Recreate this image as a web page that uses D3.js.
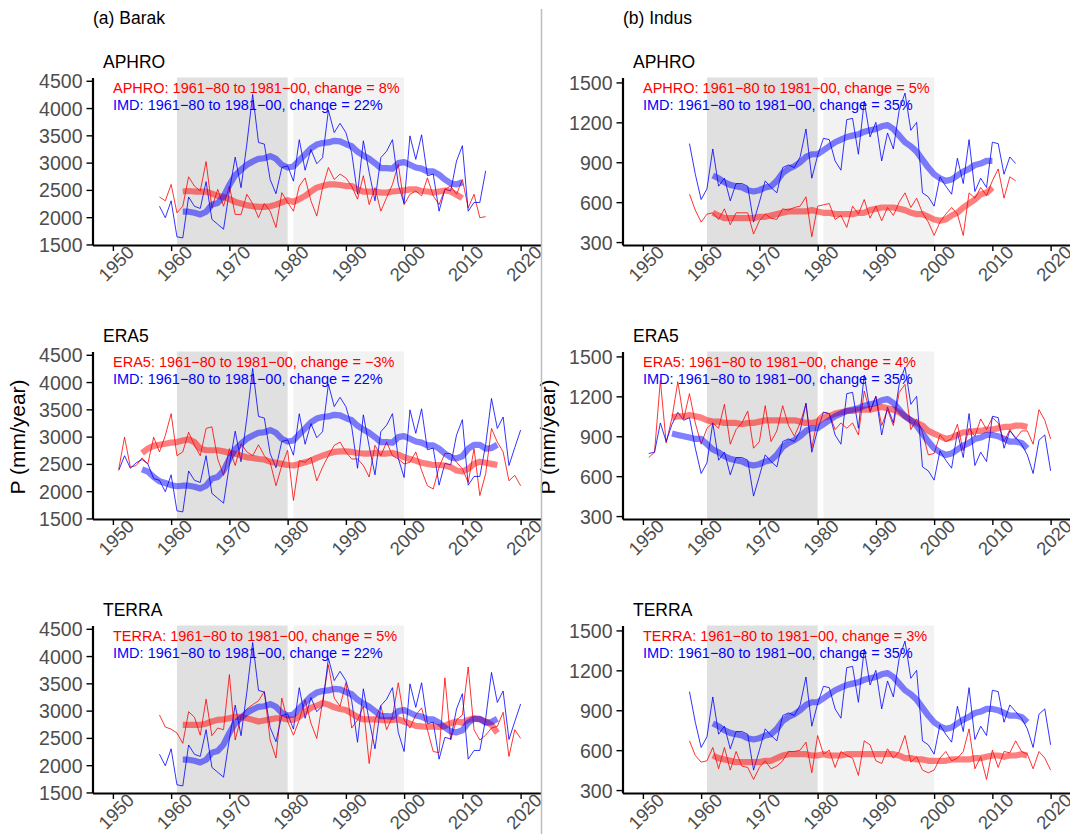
<!DOCTYPE html>
<html>
<head>
<meta charset="utf-8">
<script src="https://cdn.jsdelivr.net/npm/d3@7"></script>
<style>
  body { margin: 0; background: #fff; }
  svg { display: block; font-family: "Liberation Sans", Arial, Helvetica, sans-serif; }
</style>
</head>
<body>
<svg width="1070" height="834"></svg>
<script>
// annual precipitation (mm/year), plus the smoothed curves
// IMD: 1951-2020, IMD smooth: 1955-2016
const barakImd = [2380, 2650, 2420, 2520, 2580, 2500, 2230, 2200, 1990, 2300, 1640, 1620, 2370, 2200, 2160, 2650,
  1960, 1870, 1780, 2480, 3100, 2540, 3340, 4250, 3370, 3340, 2690, 2430, 2910, 2940, 2660, 3420, 2860, 3240,
  2980, 3090, 3960, 3550, 3720, 3550, 3180, 2420, 3400, 2820, 2300, 3090, 3210, 3420, 2600, 2250, 3490, 3060,
  3510, 2760, 2790, 2110, 2510, 2480, 3030, 3310, 2110, 2270, 2270, 2850, 3700, 3150, 3360, 2470, 2800, 3120]
const barakImdSmooth = [2400, 2360, 2260, 2180, 2150, 2110, 2090, 2100, 2100, 2080, 2050, 2100, 2230, 2260, 2380,
  2590, 2770, 2870, 2960, 3020, 3070, 3080, 3120, 3070, 2960, 2910, 2930, 3040, 3150, 3260, 3330, 3360, 3370,
  3400, 3390, 3340, 3300, 3200, 3130, 3070, 2990, 2900, 2900, 2890, 2990, 3010, 2960, 2910, 2890, 2840, 2840,
  2780, 2690, 2620, 2600, 2640, 2780, 2850, 2850, 2780, 2790, 2850]
// APHRO: 1958-2014, smooth 1962-2010
const barakAphro = [2370, 2300, 2600, 2080, 2200, 2740, 2570, 2480, 3020, 2170, 2510, 2200, 2570, 2050, 2050, 2420,
  2250, 1990, 2250, 2110, 1810, 2450, 2270, 2110, 2570, 2720, 2300, 2020, 2540, 2910, 2690, 2790, 2720, 2570,
  2330, 2760, 2230, 2540, 2110, 2360, 2600, 2970, 2230, 2420, 2480, 2390, 2720, 2390, 2230, 2510, 2570, 2420,
  2690, 2170, 2420, 1990, 2010]
const barakAphroSmooth = [2470, 2480, 2470, 2470, 2470, 2430, 2390, 2370, 2330, 2280, 2250, 2220, 2200, 2190, 2190,
  2200, 2230, 2270, 2310, 2280, 2330, 2390, 2470, 2540, 2570, 2600, 2600, 2590, 2570, 2570, 2510, 2470, 2470,
  2470, 2450, 2450, 2470, 2480, 2490, 2510, 2510, 2480, 2470, 2450, 2470, 2490, 2470, 2410, 2350]
// ERA5: 1951-2020, smooth 1955-2016
const barakEra5 = [2400, 2990, 2440, 2470, 2610, 2500, 2990, 2720, 3020, 3420, 2650, 2720, 3080, 2840, 2650, 3150,
  3180, 2590, 2290, 2780, 2470, 2870, 2720, 2650, 2850, 2650, 2530, 2100, 2470, 2750, 1830, 2560, 2530, 2620,
  2190, 2440, 2650, 2840, 2900, 2720, 2590, 2590, 2470, 2260, 2840, 2650, 2900, 2650, 2590, 2500, 2530, 2720,
  2380, 2100, 2040, 2440, 2690, 2690, 2530, 2410, 2160, 2780, 1920, 2320, 3150, 2900, 2720, 2190, 2290, 2100]
const barakEra5Smooth = [2700, 2780, 2830, 2850, 2870, 2890, 2900, 2930, 2950, 2900, 2780, 2750, 2750, 2750, 2730,
  2700, 2690, 2650, 2620, 2610, 2590, 2580, 2540, 2520, 2500, 2480, 2470, 2500, 2530, 2560, 2610, 2650, 2690,
  2720, 2730, 2730, 2720, 2700, 2690, 2690, 2700, 2690, 2690, 2700, 2670, 2620, 2590, 2560, 2520, 2500, 2480,
  2480, 2470, 2440, 2380, 2360, 2410, 2500, 2540, 2520, 2500, 2480]
// TERRA: 1958-2020, smooth 1962-2016
const barakTerra = [2920, 2700, 2660, 2590, 2400, 2980, 2880, 2550, 3210, 2540, 2680, 2650, 3660, 2460, 2890, 3030,
  3110, 3180, 3350, 2460, 2130, 3230, 2800, 2550, 2830, 3200, 2770, 2490, 3170, 3840, 3230, 3080, 3510, 2680,
  2830, 3080, 2030, 2830, 3090, 2650, 2890, 3510, 2830, 2680, 2920, 3050, 2650, 2250, 2230, 3600, 2460, 2830,
  2920, 3800, 2650, 2460, 2550, 2680, 2710, 2970, 2160, 2650, 2490]
const barakTerraSmooth = [2740, 2740, 2740, 2740, 2760, 2800, 2830, 2840, 2860, 2890, 2880, 2860, 2830, 2800, 2820,
  2840, 2860, 2860, 2840, 2830, 2890, 2980, 3050, 3090, 3140, 3110, 3060, 3030, 3010, 2950, 2880, 2840, 2840,
  2840, 2830, 2820, 2830, 2840, 2800, 2760, 2720, 2710, 2700, 2710, 2700, 2720, 2770, 2800, 2780, 2830, 2860,
  2840, 2800, 2740, 2590]

const indusImd = [770, 780, 1000, 860, 990, 1080, 1020, 1040, 810, 620, 700, 1000, 720, 780, 610, 740, 740, 720, 450,
  600, 760, 710, 670, 860, 880, 860, 940, 1150, 780, 950, 1080, 1070, 910, 840, 1220, 1230, 960, 1360, 1090, 1200,
  910, 1120, 1000, 1290, 1420, 1140, 1200, 670, 640, 570, 790, 720, 660, 930, 740, 1070, 680, 780, 710, 1050,
  1040, 810, 940, 890, 840, 760, 620, 870, 910, 640]
const indusImdSmooth = [920, 910, 900, 890, 880, 880, 840, 800, 780, 750, 730, 720, 710, 690, 680, 690, 710, 720, 760,
  820, 850, 870, 900, 940, 960, 960, 990, 1020, 1050, 1070, 1090, 1100, 1110, 1130, 1140, 1150, 1170, 1180, 1150,
  1100, 1050, 1020, 980, 920, 860, 810, 780, 760, 770, 800, 830, 850, 880, 890, 910, 910, 900, 880, 860, 860, 850, 810]
const indusAphro = [660, 540, 450, 510, 520, 470, 550, 430, 520, 520, 520, 360, 460, 510, 480, 470, 550, 540, 560,
  570, 640, 340, 570, 580, 590, 470, 500, 410, 570, 510, 620, 480, 570, 460, 560, 500, 600, 670, 560, 630, 520,
  450, 350, 450, 510, 560, 510, 350, 670, 630, 710, 650, 760, 850, 630, 790, 760]
const indusAphroSmooth = [520, 500, 480, 480, 480, 480, 480, 480, 490, 490, 500, 510, 520, 530, 530, 530, 530, 540,
  530, 520, 520, 510, 510, 510, 510, 520, 520, 540, 550, 560, 560, 560, 550, 540, 520, 510, 510, 490, 470, 460,
  470, 500, 520, 560, 590, 620, 660, 670, 710]
const indusEra5 = [740, 780, 1320, 850, 1040, 1310, 1030, 1220, 1000, 840, 960, 1000, 960, 1140, 840, 950, 1000,
  1090, 810, 860, 1130, 860, 940, 1130, 980, 900, 1000, 1140, 810, 1040, 1080, 1070, 950, 1000, 960, 1000, 910,
  1240, 1080, 1200, 980, 1100, 980, 1230, 1290, 950, 1030, 930, 760, 770, 910, 860, 880, 990, 790, 960, 900,
  1030, 950, 1040, 1000, 860, 950, 880, 940, 940, 840, 1100, 1020, 880]
const indusEra5Smooth = [1040, 1050, 1050, 1060, 1050, 1040, 1020, 1010, 1010, 1000, 1000, 1000, 990, 1000, 1000,
  1010, 1020, 1020, 1020, 1020, 1020, 1020, 1010, 1000, 1000, 1010, 1040, 1050, 1070, 1080, 1090, 1090, 1100,
  1100, 1100, 1110, 1120, 1110, 1100, 1080, 1050, 1020, 1000, 980, 940, 920, 900, 880, 890, 910, 930, 930, 940,
  940, 950, 950, 960, 970, 970, 980, 980, 970]
const indusTerra = [670, 560, 510, 520, 620, 460, 620, 450, 590, 480, 470, 380, 470, 520, 460, 480, 520, 590, 590,
  600, 660, 430, 710, 570, 600, 470, 590, 560, 540, 410, 670, 640, 520, 500, 610, 540, 590, 710, 510, 550, 450,
  430, 450, 540, 590, 520, 540, 590, 760, 460, 550, 380, 600, 470, 590, 580, 670, 590, 570, 460, 590, 540, 450]
const indusTerraSmooth = [560, 540, 530, 520, 510, 510, 510, 510, 510, 520, 520, 540, 560, 570, 570, 570, 570, 560,
  560, 570, 560, 560, 560, 570, 570, 570, 570, 570, 570, 570, 570, 570, 560, 540, 540, 530, 530, 520, 520, 520,
  520, 530, 530, 530, 530, 540, 540, 550, 560, 560, 550, 560, 560, 570, 560]

const products = ['APHRO', 'ERA5', 'TERRA']
// first and last year of each series
const productSpan = {APHRO: [1958, 2014], ERA5: [1951, 2020], TERRA: [1958, 2020]}
const smoothSpan = {APHRO: [1962, 2010], ERA5: [1955, 2016], TERRA: [1962, 2016]}
const imdStart = 1951, imdSmoothStart = 1955

const barakChange = [8, -3, 5], barakImdChange = 22
const indusChange = [5, 4, 3], indusImdChange = 35

const barakTicks = [1500, 2000, 2500, 3000, 3500, 4000, 4500]
const indusTicks = [300, 600, 900, 1200, 1500]
const yearTicks = [1950, 1960, 1970, 1980, 1990, 2000, 2010, 2020]
const periods = [[1961, 1980, '#e0e0e0'], [1981, 2000, '#f2f2f2']]

const regions = [
  {title: '(a) Barak', imd: barakImd, imdSmooth: barakImdSmooth, imdChange: barakImdChange, change: barakChange,
   series: [barakAphro, barakEra5, barakTerra], smooth: [barakAphroSmooth, barakEra5Smooth, barakTerraSmooth],
   ticks: barakTicks, domain: [1490, 4560]},
  {title: '(b) Indus', imd: indusImd, imdSmooth: indusImdSmooth, imdChange: indusImdChange, change: indusChange,
   series: [indusAphro, indusEra5, indusTerra], smooth: [indusAphroSmooth, indusEra5Smooth, indusTerraSmooth],
   ticks: indusTicks, domain: [278, 1537]}
]

const svg = d3.select('svg')
const colW = 530, rowH = 274
const pLeft = 92.5, pRight = 541, pTop = 77.5, pBottom = 245

const toPoints = (vals, start) => vals.map((v, i) => ({year: start + i, value: v}))
const clip = (pts, span) => pts.filter(d => d.year >= span[0] && d.year <= span[1])
const fmtPct = p => (p < 0 ? '\u2212' + Math.abs(p) : p) + '%'

regions.forEach((reg, c) => {
  const ox = c * colW

  svg.append('text').text(reg.title)
    .attr('x', 93 + ox).attr('y', 24)
    .attr('font-size', 17.5).attr('fill', 'black')

  products.forEach((name, r) => {
    const oy = r * rowH
    const x = d3.scaleLinear().domain([1946.5, 2023.5]).range([pLeft + ox, pRight + ox])
    const y = d3.scaleLinear().domain(reg.domain).range([pBottom + oy, pTop + oy])
    const g = svg.append('g')

    g.selectAll('rect.period').data(periods).enter().append('rect')
      .attr('x', d => x(d[0]))
      .attr('width', d => x(d[1]) - x(d[0]))
      .attr('y', pTop + oy)
      .attr('height', pBottom - pTop)
      .attr('fill', d => d[2])

    const line = d3.line().x(d => x(d.year)).y(d => y(d.value))

    const prod = toPoints(reg.series[r], productSpan[name][0])
    const prodSm = toPoints(reg.smooth[r], smoothSpan[name][0])
    const imd = clip(toPoints(reg.imd, imdStart), productSpan[name])
    const imdSm = clip(toPoints(reg.imdSmooth, imdSmoothStart), smoothSpan[name])

    g.append('path').datum(prod).attr('d', line)
      .attr('fill', 'none').attr('stroke', '#ff0000').attr('stroke-width', 0.8)
    g.append('path').datum(imd).attr('d', line)
      .attr('fill', 'none').attr('stroke', '#0000ff').attr('stroke-width', 0.8)
    g.append('path').datum(prodSm).attr('d', line)
      .attr('fill', 'none').attr('stroke', '#ff0000').attr('stroke-opacity', 0.5)
      .attr('stroke-width', 6.2).attr('stroke-linejoin', 'round')
    g.append('path').datum(imdSm).attr('d', line)
      .attr('fill', 'none').attr('stroke', '#0000ff').attr('stroke-opacity', 0.5)
      .attr('stroke-width', 6.2).attr('stroke-linejoin', 'round')

    // axes
    const yAxis = g.append('g')
      .attr('transform', `translate(${pLeft + ox},0)`)
      .call(d3.axisLeft(y).tickValues(reg.ticks).tickFormat(d3.format('d'))
        .tickSize(6).tickSizeOuter(0).tickPadding(4))
    const xAxis = g.append('g')
      .attr('transform', `translate(0,${pBottom + oy})`)
      .call(d3.axisBottom(x).tickValues(yearTicks).tickFormat(d3.format('d')).tickSize(6).tickSizeOuter(0))

    ;[yAxis, xAxis].forEach(a => {
      a.attr('font-size', null).attr('font-family', null)
      a.select('.domain').attr('stroke', 'black').attr('stroke-width', 2.2)
      a.selectAll('.tick line').attr('stroke', 'black').attr('stroke-width', 1.4)
      a.selectAll('.tick text').attr('fill', '#4d4d4d')
    })
    yAxis.selectAll('.tick text').attr('x', -10).attr('dy', '0.36em').attr('font-size', 19.5)
    xAxis.selectAll('.tick text')
      .attr('x', 0).attr('y', 0).attr('dy', 0)
      .attr('font-size', 18.5)
      .attr('text-anchor', 'end')
      .attr('transform', 'translate(22,8.5) rotate(-45)')

    // labels
    svg.append('text').text(name)
      .attr('x', 103 + ox).attr('y', 68 + oy)
      .attr('font-size', 17.5).attr('fill', 'black')
    svg.append('text').text(`${name}: 1961\u221280 to 1981\u221200, change = ${fmtPct(reg.change[r])}`)
      .attr('x', 113 + ox).attr('y', 92.5 + oy)
      .attr('font-size', 14.5).attr('fill', '#ff0000')
    svg.append('text').text(`IMD: 1961\u221280 to 1981\u221200, change = ${fmtPct(reg.imdChange)}`)
      .attr('x', 113 + ox).attr('y', 110 + oy)
      .attr('font-size', 14.5).attr('fill', '#0000ff')
  })

  svg.append('text').text('P (mm/year)')
    .attr('transform', `translate(${25 + ox},437) rotate(-90)`)
    .attr('text-anchor', 'middle')
    .attr('font-size', 21).attr('fill', 'black')
})

// separator between the two regions
svg.append('line')
  .attr('x1', 541.5).attr('x2', 541.5).attr('y1', 9).attr('y2', 834)
  .attr('stroke', '#bdbdbd').attr('stroke-width', 1.5)
</script>
</body>
</html>
